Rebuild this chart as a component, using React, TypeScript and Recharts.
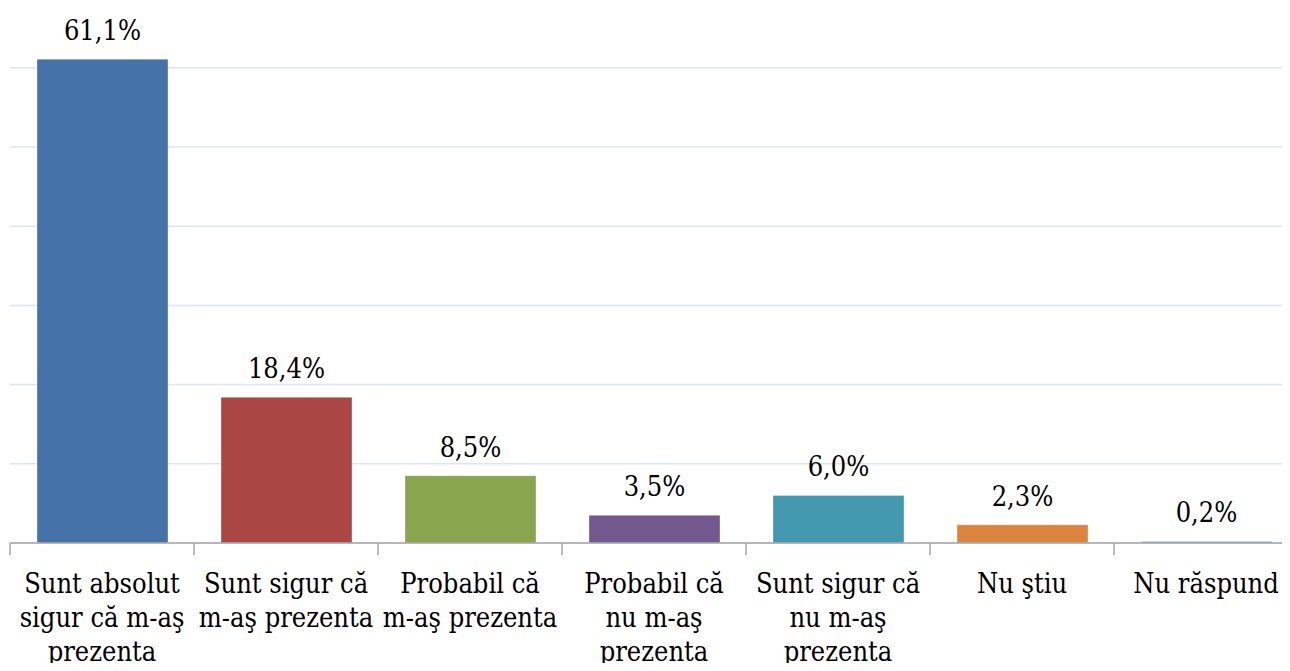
import React from 'react';
import { BarChart, Bar, XAxis, YAxis, CartesianGrid, LabelList, Cell } from 'recharts';

const categories = [
  'Sunt absolut\nsigur că m-aş\nprezenta',
  'Sunt sigur că\nm-aş prezenta',
  'Probabil că\nm-aş prezenta',
  'Probabil că\nnu m-aş\nprezenta',
  'Sunt sigur că\nnu m-aş\nprezenta',
  'Nu ştiu',
  'Nu răspund',
];
const values = [61.1, 18.4, 8.5, 3.5, 6.0, 2.3, 0.2];
const colors = ['#4572A7', '#AA4643', '#89A54E', '#71588F', '#4198AF', '#DB843D', '#6F8FC0'];
const yTicks = [0, 10, 20, 30, 40, 50, 60];

const data = categories.map((name, i) => ({ name, value: values[i] }));

const W = 1300;
const H = 671;
const M = { top: 52, right: 2, left: 10, bottom: 0 };
const HALF_BAND = (W - M.left - M.right) / categories.length / 2;
const FONT = "'DejaVu Serif Condensed', 'DejaVu Serif', serif";

function CategoryTick(props: any) {
  const { x, y, payload } = props;
  const lines = String(payload.value).split('\n');
  return (
    <g>
      <line x1={x - HALF_BAND} x2={x - HALF_BAND} y1={y - 8} y2={y + 4} stroke="#A6A6A6" strokeWidth={1.5} />
      <text x={x} y={y} textAnchor="middle" style={{ fontFamily: FONT, fontSize: 27, fontStretch: 'condensed' }} fill="#000">
        {lines.map((l, i) => (
          <tspan key={i} x={x} y={y + 42 + i * 34}>{l}</tspan>
        ))}
      </text>
    </g>
  );
}

function ValueLabel(props: any) {
  const { x, y, width, value } = props;
  return (
    <text x={x + width / 2} y={y - 19} textAnchor="middle" style={{ fontFamily: FONT, fontSize: 27, fontStretch: 'condensed' }} fill="#000">
      {value.toFixed(1).replace('.', ',')}%
    </text>
  );
}

export default function App() {
  return (
    <div style={{ margin: -8, width: 1290, height: 671, overflow: 'hidden', background: '#fff' }}>
      <BarChart width={W} height={H} data={data} margin={M} barSize={131}>
        <CartesianGrid vertical={false} horizontalValues={yTicks} stroke="#DCE6F2" strokeWidth={1.5} />
        <YAxis hide domain={[0, 62]} ticks={yTicks} />
        <XAxis
          dataKey="name"
          interval={0}
          height={128}
          tickLine={false}
          axisLine={{ stroke: '#A6A6A6', strokeWidth: 1.5 }}
          tick={<CategoryTick />}
        />
        <Bar dataKey="value" isAnimationActive={false}>
          {data.map((d, i) => (
            <Cell key={i} fill={colors[i]} stroke="rgba(255,255,255,0.35)" />
          ))}
          <LabelList dataKey="value" content={<ValueLabel />} />
        </Bar>
      </BarChart>
    </div>
  );
}
